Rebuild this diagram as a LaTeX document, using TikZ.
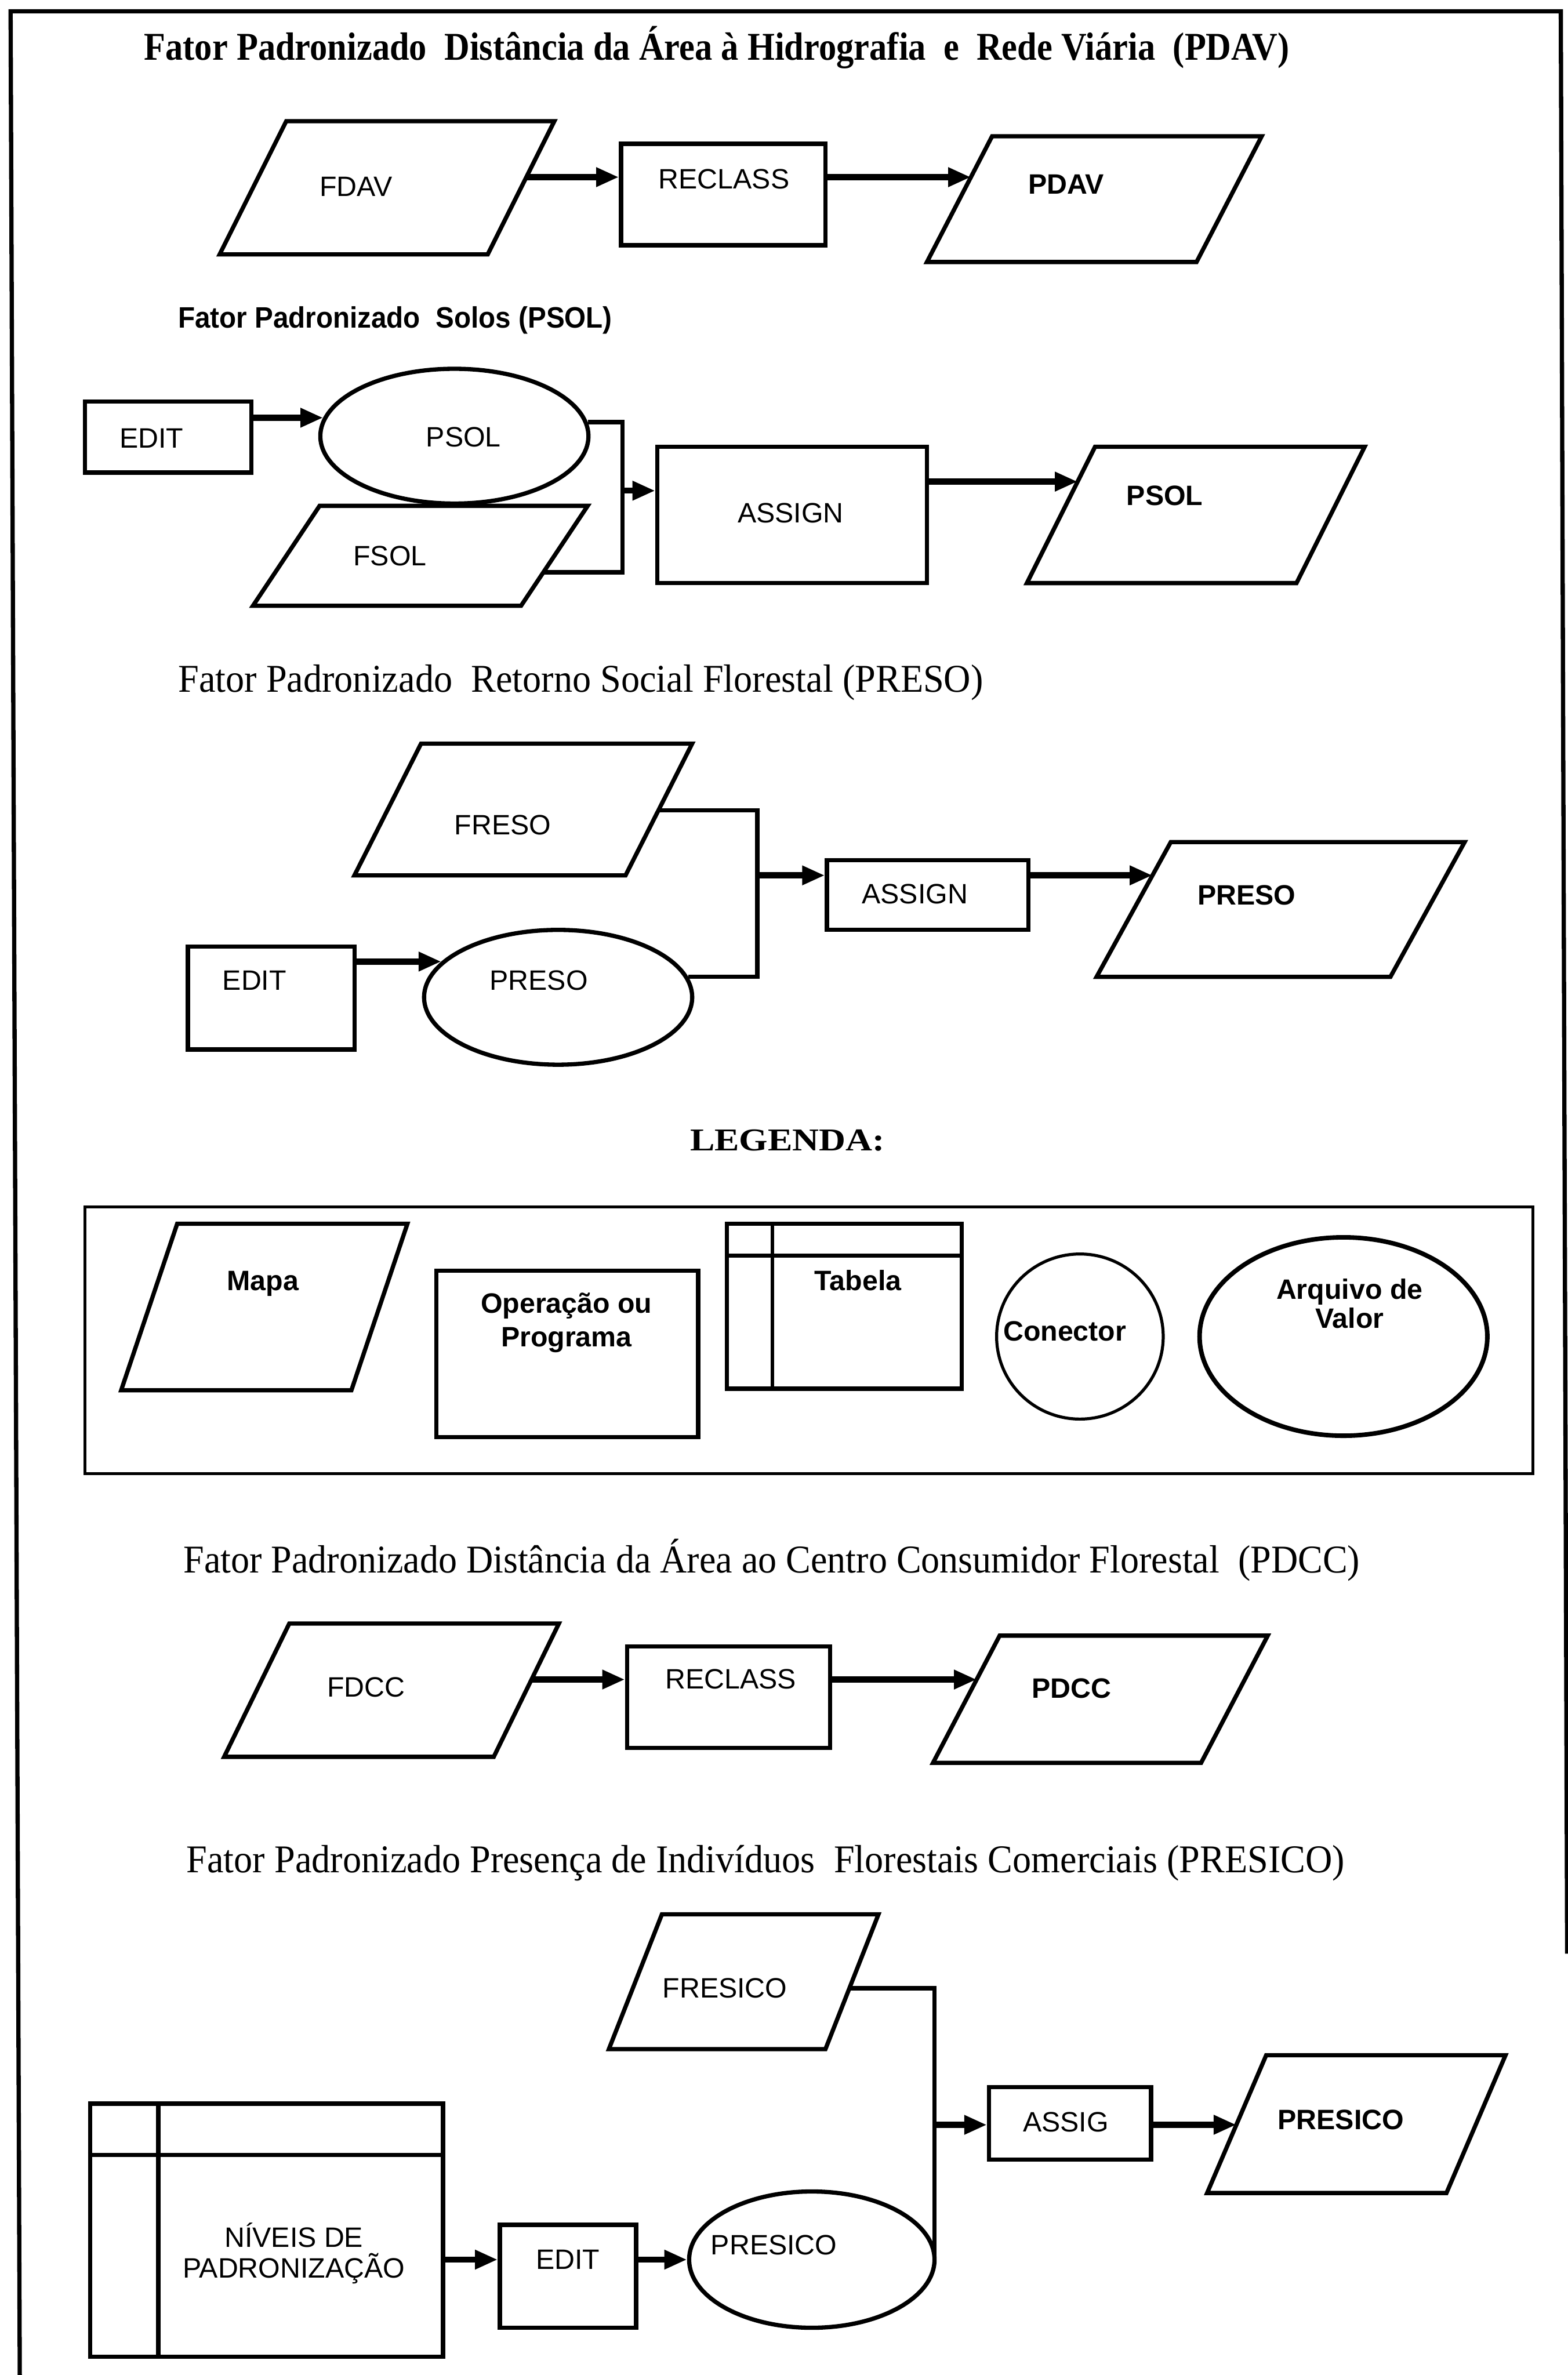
\documentclass[tikz,border=0pt]{standalone}
\usepackage{fontspec}
\setmainfont{Liberation Serif}
\setsansfont{Liberation Sans}
\usetikzlibrary{arrows.meta,shapes.geometric,calc}

% parallelogram "map" symbol: name, top-left x, top y, width, height, slant
\newcommand\mapshape[6]{%
  \coordinate (#1-nw) at (#2,#3);
  \coordinate (#1-ne) at (#2+#4,#3);
  \coordinate (#1-se) at (#2+#4-#6,#3+#5);
  \coordinate (#1-sw) at (#2-#6,#3+#5);
  \draw[shp] (#1-nw) -- (#1-ne) -- (#1-se) -- (#1-sw) -- cycle;}

\begin{document}
\begin{tikzpicture}[x=1pt,y=-1pt,
  shp/.style={draw, line width=2.8pt, line join=miter},
  opbox/.style={draw, line width=2.8pt, rectangle, inner sep=0pt},
  valfile/.style={draw, line width=2.8pt, ellipse, inner sep=0pt},
  lbl/.style={font=\sffamily\fontsize{18.5}{20}\selectfont, inner sep=0pt,
    text height=13.2pt, text depth=0pt},
  blbl/.style={lbl, font=\sffamily\bfseries\fontsize{18.5}{20}\selectfont},
  ttl/.style={font=\fontsize{26}{30}\selectfont, inner sep=0pt,
    text height=17.2pt, text depth=0pt, anchor=west},
  flow/.style={line width=4pt, -{Triangle[length=15pt,width=12pt]}},
  wire/.style={line width=3pt, line join=miter},
  frame/.style={line width=2.8pt, line join=miter}]

\useasboundingbox (0,0) rectangle (1035,1568.2);

% outer frame
\draw[frame] (13.1,1580) -- (7,7.5) -- (1030.5,7.5) -- (1034.7,1290);

% ---------- PDAV ----------
\node[ttl] (t1) at (95,31) {\resizebox{756pt}{\height}{\bfseries Fator Padronizado~ Distância da Área à Hidrografia~ e~ Rede Viária~ (PDAV)}};
\mapshape{fdav}{189}{80}{177}{88}{44}
\node[lbl] (fdav) at (235,123) {FDAV};
\node[opbox, minimum width=135pt, minimum height=67pt] (reclass1) at (477.5,128.5) {};
\node[lbl] (reclass1-t) at (478,118) {RECLASS};
\mapshape{pdav}{655}{90}{178}{83}{43}
\node[blbl] (pdav) at (704,121.6) {PDAV};
\coordinate (fdavR) at ($(fdav-ne)!0.42!(fdav-se)$);
\coordinate (pdavL) at ($(pdav-nw)!0.325!(pdav-sw)$);
\draw[flow] (fdavR) -- (reclass1.west |- fdavR);
\draw[flow] (reclass1.east |- pdavL) -- (pdavL);

% ---------- PSOL ----------
\node[ttl, font=\sffamily\bfseries\fontsize{19.5}{22}\selectfont, text height=14pt] (t2) at (117.4,209.6) {\resizebox{286.6pt}{\height}{Fator Padronizado~ Solos (PSOL)}};
\node[opbox, minimum width=110pt, minimum height=47pt] (edit2) at (111,288.5) {};
\node[lbl] (edit2-t) at (100,289) {EDIT};
\node[valfile, minimum width=177pt, minimum height=89pt] (psolv) at (300,288) {};
\node[lbl] (psolv-t) at (306,288.5) {PSOL};
\mapshape{fsol}{211}{334}{177}{66}{44}
\node[lbl] (fsol) at (257.5,366.7) {FSOL};
\node[opbox, minimum width=178pt, minimum height=90pt] (assign2) at (523,340) {};
\node[lbl] (assign2-t) at (522,338.5) {ASSIGN};
\mapshape{psol}{723}{295}{178}{90}{45}
\node[blbl] (psol) at (769,327) {PSOL};
\coordinate (j2) at (411,324);
\coordinate (fsolR) at ($(fsol-ne)!0.667!(fsol-se)$);
\coordinate (psolL) at ($(psol-nw)!0.2556!(psol-sw)$);
\draw[flow] (edit2.east |- psolv.172.7) -- (psolv.172.7);
\draw[wire] (psolv.6.6) -| (j2) |- (fsolR);
\draw[flow] (j2) -- (assign2.west |- j2);
\draw[flow] (assign2.east |- psolL) -- (psolL);

% ---------- PRESO ----------
\node[ttl] (t3) at (117.5,448.5) {\resizebox{531.5pt}{\height}{Fator Padronizado~ Retorno Social Florestal (PRESO)}};
\mapshape{freso}{278}{491}{179}{87}{44}
\node[lbl] (freso) at (332,544.5) {FRESO};
\node[opbox, minimum width=133pt, minimum height=46pt] (assign3) at (612.5,591) {};
\node[lbl] (assign3-t) at (604,590) {ASSIGN};
\mapshape{presom}{773}{556}{194}{89}{49}
\node[blbl] (presom) at (823,591) {PRESO};
\node[opbox, minimum width=110pt, minimum height=68pt] (edit3) at (179,659) {};
\node[lbl] (edit3-t) at (168,647) {EDIT};
\node[valfile, minimum width=177pt, minimum height=89pt] (presov) at (368.5,658.5) {};
\node[lbl] (presov-t) at (355.7,647) {PRESO};
\coordinate (j3) at (500,578);
\coordinate (fresoR) at ($(freso-ne)!0.506!(freso-se)$);
\coordinate (presoL) at ($(presom-nw)!0.247!(presom-sw)$);
\draw[flow] (edit3.east |- presov.163.6) -- (presov.163.6);
\draw[wire] (fresoR) -| (j3) |- (presov.9.1);
\draw[flow] (j3) -- (assign3.west |- j3);
\draw[flow] (assign3.east |- presoL) -- (presoL);

% ---------- legend ----------
\node[ttl, font=\bfseries\fontsize{21}{24}\selectfont, text height=13.8pt] (leg) at (455.4,752.7) {\resizebox{128.6pt}{\height}{LEGENDA:}};
\node[draw, line width=2pt, inner sep=0pt, minimum width=956pt, minimum height=176pt] (legendbox) at (534,885) {};
\mapshape{mapa}{117}{808}{152}{110}{37}
\node[blbl] (mapa) at (173.6,845.6) {Mapa};
\node[opbox, minimum width=173pt, minimum height=110pt] (oper) at (374.5,894) {};
\node[blbl] (oper-t1) at (374,860.5) {Operação ou};
\node[blbl] (oper-t2) at (374,882.5) {Programa};
\node[opbox, minimum width=155pt, minimum height=109pt] (tabela) at (557.5,862.5) {};
\draw[shp] (tabela.west |- 0,829) -- (tabela.east |- 0,829);
\draw[shp, line width=2.2pt] (tabela.north -| 510,0) -- (tabela.south -| 510,0);
\node[blbl] (tabela-t) at (566.5,845.6) {Tabela};
\node[valfile, line width=2pt, minimum width=110pt, minimum height=109pt] (conector) at (713,882.5) {};
\node[blbl] (conector-t) at (703,878.6) {Conector};
\node[valfile, line width=3pt, minimum width=190pt, minimum height=131pt] (arquivo) at (887,882.5) {};
\node[blbl] (arquivo-t1) at (891,851) {Arquivo de};
\node[blbl] (arquivo-t2) at (891,870.5) {Valor};

% ---------- PDCC ----------
\node[ttl] (t5) at (121,1030) {\resizebox{776.6pt}{\height}{Fator Padronizado Distância da Área ao Centro Consumidor Florestal~ (PDCC)}};
\mapshape{fdcc}{191}{1072}{178}{88}{43}
\node[lbl] (fdcc) at (241.7,1113.8) {FDCC};
\node[opbox, minimum width=134pt, minimum height=67pt] (reclass5) at (481,1120.5) {};
\node[lbl] (reclass5-t) at (482.5,1108.3) {RECLASS};
\mapshape{pdcc}{660}{1080}{177}{84}{44}
\node[blbl] (pdcc) at (707.4,1114.6) {PDCC};
\coordinate (fdccR) at ($(fdcc-ne)!0.42!(fdcc-se)$);
\coordinate (pdccL) at ($(pdcc-nw)!0.345!(pdcc-sw)$);
\draw[flow] (fdccR) -- (reclass5.west |- fdccR);
\draw[flow] (reclass5.east |- pdccL) -- (pdccL);

% ---------- PRESICO ----------
\node[ttl] (t6) at (123,1228) {\resizebox{764.6pt}{\height}{Fator Padronizado Presença de Indivíduos~ Florestais Comerciais (PRESICO)}};
\mapshape{fresico}{437}{1264}{143}{89}{35}
\node[lbl] (fresico) at (478.6,1312.7) {FRESICO};
\node[opbox, minimum width=107pt, minimum height=48pt] (assig) at (706.5,1402) {};
\node[lbl] (assig-t) at (703.7,1401) {ASSIG};
\mapshape{presicom}{836}{1357}{158}{91}{39}
\node[blbl] (presicom) at (885.3,1399.4) {PRESICO};
\node[opbox, minimum width=233pt, minimum height=167pt] (niveis) at (176,1472.5) {};
\draw[shp] (niveis.west |- 0,1423) -- (niveis.east |- 0,1423);
\draw[shp] (niveis.north -| 104.5,0) -- (niveis.south -| 104.5,0);
\node[lbl] (niveis-t1) at (194,1477) {NÍVEIS DE};
\node[lbl] (niveis-t2) at (194,1497.5) {PADRONIZAÇÃO};
\node[opbox, minimum width=90pt, minimum height=68pt] (edit6) at (375,1503) {};
\node[lbl] (edit6-t) at (375,1491.7) {EDIT};
\node[valfile, minimum width=162pt, minimum height=90pt] (presicov) at (536,1492) {};
\node[lbl] (presicov-t) at (511,1482) {PRESICO};
\coordinate (j6) at (617,1403);
\coordinate (fresicoR) at ($(fresico-ne)!0.55!(fresico-se)$);
\coordinate (presicoL) at ($(presicom-nw)!0.505!(presicom-sw)$);
\draw[flow] (niveis.east |- presicov.west) -- (edit6.west |- presicov.west);
\draw[flow] (edit6.east |- presicov.west) -- (presicov.west);
\draw[wire] (fresicoR) -| (j6) |- (presicov.east);
\draw[flow] (j6) -- (assig.west |- j6);
\draw[flow] (assig.east |- presicoL) -- (presicoL);

\end{tikzpicture}
\end{document}
